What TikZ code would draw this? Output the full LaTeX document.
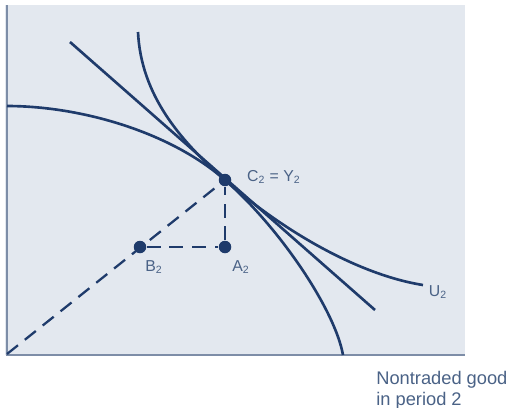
\documentclass[tikz,border=0pt]{standalone}
\usepackage{fontspec}
\setmainfont{Liberation Sans}
\definecolor{ink}{HTML}{1F3B6B}
\definecolor{paper}{HTML}{E3E8EF}
\definecolor{lbl}{HTML}{4A6286}
\definecolor{axisc}{HTML}{7D8DA7}

\begin{document}
\begin{tikzpicture}[x=0.02cm,y=-0.02cm,
  curve/.style={ink,line width=1.5pt},
  guide/.style={ink,line width=1.3pt,dash pattern=on 8pt off 5pt},
  dot/.style={circle,fill=ink,inner sep=0pt,minimum size=0.25cm},
  tag/.style={lbl,font=\fontsize{9}{10}\selectfont,inner sep=1pt}]
\useasboundingbox (0,0) rectangle (510,407);
\fill[paper] (5,5) rectangle (465,355);
\draw[axisc,line width=1.2pt] (7,5) -- (7,355) -- (465,355);

% points
\coordinate (O) at (7,354);
\node[dot] (C) at (225,180) {};
\node[dot] (A) at (225,247) {};
\node[dot] (B) at (140,247) {};

% production frontier
\draw[curve] (7,106) .. controls (80,106) and (170,131.6) .. (C.center)
  .. controls (280,228) and (335,310) .. (343,355);
% budget line
\coordinate (p) at (70,42);
\coordinate (q) at (375,310);
\draw[curve] (p) -- (q);
% indifference curve
\draw[curve] (138,32) .. controls (141,95) and (180,140.4) .. (C.center)
  .. controls (285,232.7) and (360,275) .. (423,285);

\draw[guide] (O) -- (C);
\draw[guide] (B) -- (A) -- (C);

\node[tag,anchor=west] (cy) at (245,177) {C\textsubscript{2} = Y\textsubscript{2}};
\node[tag] (bl) at (154,267) {B\textsubscript{2}};
\node[tag] (al) at (241,267) {A\textsubscript{2}};
\node[tag] (ul) at (438,292) {U\textsubscript{2}};
\node[lbl,anchor=west,align=left,inner sep=0pt,font=\fontsize{10.4}{12.2}\selectfont] (xl) at (376,390)
  {Nontraded good\\in period 2};
\end{tikzpicture}
\end{document}
